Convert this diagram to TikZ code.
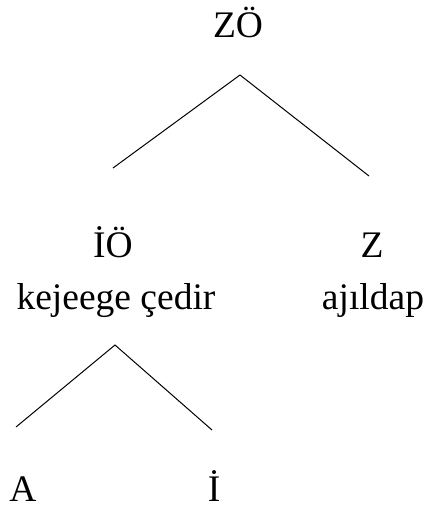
\documentclass[tikz,border=0pt]{standalone}
\usepackage{fontspec}
\setmainfont{Liberation Serif}
\usepackage{tikz}
\usetikzlibrary{positioning}

\begin{document}
\begin{tikzpicture}[x=1pt, y=-1pt, every node/.style={anchor=base, inner sep=0pt, font=\fontsize{37.5}{44}\selectfont}]
  \useasboundingbox (0,0) rectangle (428,509);
  \node (zo) at (238,37) {ZÖ};
  \node (io) at (113,257) {İÖ};
  \node (z) at (372,257) {Z};
  \node (kejeege) at (116,309) {kejeege çedir};
  \node (ajildap) at (373,309) {ajıldap};
  \node (a) at (23,501) {A};
  \node (i) at (214,501) {İ};

  \coordinate (top1) at (240,75);
  \coordinate (left1) at (113,168);
  \coordinate (right1) at (369,176);
  \coordinate (top2) at (115,345);
  \coordinate (left2) at (16,427);
  \coordinate (right2) at (212,430);

  \draw[line width=1pt] (left1) -- (top1) -- (right1);
  \draw[line width=1pt] (left2) -- (top2) -- (right2);
\end{tikzpicture}
\end{document}
